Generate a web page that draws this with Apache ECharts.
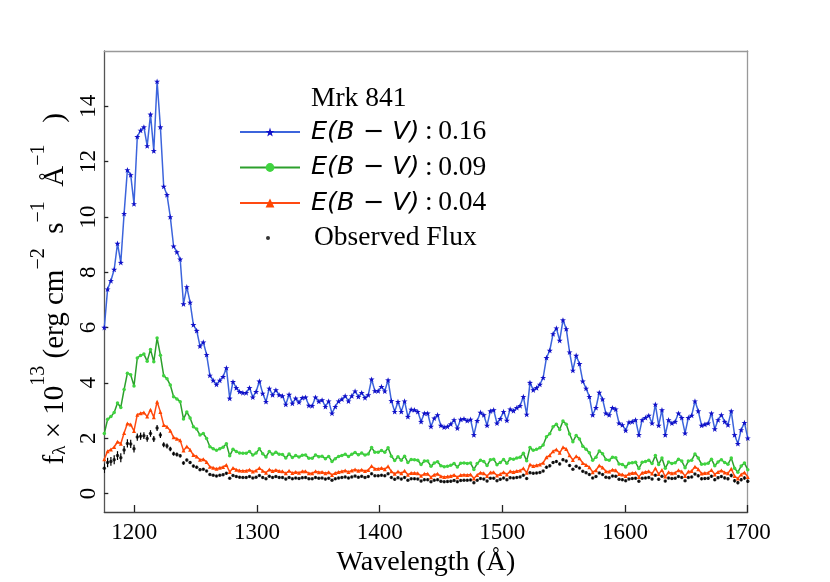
<!DOCTYPE html>
<html>
<head>
<meta charset="utf-8">
<script src="https://cdn.jsdelivr.net/npm/echarts@6/dist/echarts.min.js"></script>
<style>
  html, body { margin: 0; padding: 0; background: #fff; }
  #chart { width: 830px; height: 582px; }
</style>
</head>
<body>
<div id="chart"></div>
<script>
// spectrum of Mrk 841, uniform bins of ~2.69 A starting at the left edge
var waveStart = 1175.5
var waveStep = 2.69

var xTicks = [1200, 1300, 1400, 1500, 1600, 1700]
var yTicks = [0, 2, 4, 6, 8, 10, 12, 14]

// E(B-V) = 0.16
var flux16 = [
  6.00, 7.39, 7.69, 8.10, 9.04, 8.35, 10.12, 11.70, 11.52, 10.47,
  12.90, 13.13, 13.25, 12.57, 13.71, 12.39, 14.90, 13.25, 11.10, 10.80,
  10.00, 8.94, 8.73, 8.47, 6.85, 7.47, 6.91, 6.10, 5.89, 5.33,
  5.47, 5.02, 4.27, 4.09, 3.94, 4.09, 4.22, 4.54, 3.44, 4.04,
  3.82, 3.68, 3.64, 3.64, 3.82, 3.48, 3.68, 4.06, 3.62, 3.32,
  3.80, 3.56, 3.74, 3.56, 3.53, 3.22, 3.58, 3.26, 3.44, 3.30,
  3.46, 3.48, 3.18, 3.17, 3.48, 3.33, 3.38, 3.14, 3.34, 2.90,
  3.14, 3.34, 3.41, 3.53, 3.34, 3.53, 3.70, 3.50, 3.64, 3.46,
  3.56, 4.13, 3.71, 3.71, 3.86, 3.70, 4.10, 3.35, 2.96, 3.32,
  2.96, 3.34, 2.78, 3.04, 3.02, 2.96, 2.60, 2.90, 2.90, 2.42,
  2.72, 2.84, 2.46, 2.40, 2.42, 2.51, 2.66, 2.36, 2.68, 2.70,
  2.63, 2.68, 2.12, 2.63, 2.93, 2.84, 2.46, 2.98, 3.02, 2.54,
  2.70, 2.96, 2.64, 3.05, 2.99, 3.10, 3.17, 3.50, 2.86, 4.01,
  3.74, 3.82, 3.94, 4.19, 4.91, 5.17, 5.77, 5.98, 5.53, 6.27,
  5.95, 5.11, 4.45, 4.99, 4.69, 4.06, 3.80, 3.50, 2.84, 3.10,
  3.65, 3.41, 2.90, 2.84, 3.10, 3.05, 2.54, 2.48, 2.28, 2.58,
  2.60, 2.66, 2.12, 2.66, 2.74, 2.82, 2.54, 3.22, 2.46, 3.02,
  2.12, 2.66, 2.54, 2.60, 2.90, 2.74, 2.18, 2.74, 2.82, 3.34,
  2.98, 2.46, 2.50, 2.54, 2.90, 2.33, 2.66, 2.84, 2.60, 2.48,
  2.98, 2.12, 1.80, 2.30, 2.56, 2.00
]

// E(B-V) = 0.09
var flux09 = [
  2.17, 2.68, 2.78, 2.93, 3.27, 3.11, 3.76, 4.35, 4.29, 3.89,
  4.90, 4.99, 5.04, 4.78, 5.21, 4.76, 5.62, 5.00, 4.26, 4.15,
  3.92, 3.50, 3.42, 3.32, 2.69, 2.95, 2.73, 2.41, 2.33, 2.11,
  2.17, 1.99, 1.69, 1.62, 1.56, 1.62, 1.67, 1.80, 1.36, 1.60,
  1.52, 1.46, 1.45, 1.45, 1.52, 1.39, 1.46, 1.62, 1.44, 1.32,
  1.52, 1.42, 1.49, 1.42, 1.41, 1.28, 1.43, 1.30, 1.37, 1.32,
  1.38, 1.39, 1.27, 1.27, 1.39, 1.33, 1.35, 1.26, 1.34, 1.16,
  1.26, 1.34, 1.37, 1.42, 1.34, 1.42, 1.48, 1.40, 1.46, 1.39,
  1.43, 1.66, 1.49, 1.49, 1.55, 1.49, 1.65, 1.35, 1.19, 1.33,
  1.20, 1.35, 1.12, 1.23, 1.22, 1.20, 1.05, 1.17, 1.17, 0.98,
  1.10, 1.15, 1.00, 0.97, 0.98, 1.02, 1.08, 0.96, 1.09, 1.10,
  1.08, 1.10, 0.87, 1.08, 1.20, 1.16, 1.01, 1.22, 1.24, 1.04,
  1.12, 1.23, 1.09, 1.26, 1.24, 1.28, 1.31, 1.45, 1.18, 1.66,
  1.56, 1.60, 1.65, 1.75, 2.05, 2.16, 2.41, 2.50, 2.31, 2.62,
  2.50, 2.15, 1.87, 2.10, 1.97, 1.71, 1.60, 1.47, 1.20, 1.31,
  1.54, 1.44, 1.23, 1.20, 1.31, 1.29, 1.07, 1.05, 0.96, 1.09,
  1.11, 1.13, 0.90, 1.13, 1.16, 1.20, 1.08, 1.37, 1.05, 1.28,
  0.91, 1.14, 1.08, 1.11, 1.24, 1.17, 0.93, 1.17, 1.20, 1.43,
  1.28, 1.06, 1.07, 1.09, 1.24, 1.00, 1.14, 1.22, 1.12, 1.06,
  1.28, 0.91, 0.77, 0.99, 1.10, 0.86
]

// E(B-V) = 0.04
var flux04 = [
  1.24, 1.53, 1.59, 1.68, 1.87, 1.80, 2.19, 2.53, 2.49, 2.26,
  2.85, 2.90, 2.93, 2.78, 3.03, 2.76, 3.32, 2.95, 2.48, 2.41,
  2.27, 2.03, 1.98, 1.92, 1.55, 1.70, 1.58, 1.39, 1.34, 1.22,
  1.24, 1.14, 0.97, 0.93, 0.89, 0.93, 0.96, 1.03, 0.78, 0.92,
  0.86, 0.83, 0.82, 0.82, 0.86, 0.79, 0.83, 0.92, 0.82, 0.75,
  0.87, 0.81, 0.85, 0.81, 0.80, 0.73, 0.82, 0.74, 0.78, 0.75,
  0.80, 0.80, 0.73, 0.73, 0.80, 0.77, 0.78, 0.73, 0.77, 0.67,
  0.74, 0.78, 0.80, 0.83, 0.78, 0.83, 0.87, 0.82, 0.86, 0.81,
  0.85, 0.99, 0.89, 0.89, 0.92, 0.88, 0.98, 0.80, 0.71, 0.79,
  0.73, 0.82, 0.68, 0.74, 0.74, 0.73, 0.64, 0.71, 0.71, 0.59,
  0.68, 0.71, 0.62, 0.60, 0.61, 0.63, 0.67, 0.59, 0.67, 0.68,
  0.67, 0.69, 0.54, 0.67, 0.75, 0.73, 0.63, 0.76, 0.77, 0.65,
  0.70, 0.77, 0.69, 0.80, 0.78, 0.81, 0.83, 0.91, 0.75, 1.05,
  0.99, 1.02, 1.05, 1.11, 1.31, 1.38, 1.53, 1.59, 1.47, 1.67,
  1.61, 1.38, 1.21, 1.35, 1.27, 1.10, 1.03, 0.95, 0.77, 0.84,
  1.01, 0.94, 0.80, 0.79, 0.86, 0.84, 0.70, 0.69, 0.63, 0.71,
  0.74, 0.75, 0.60, 0.75, 0.78, 0.80, 0.72, 0.91, 0.70, 0.85,
  0.61, 0.77, 0.73, 0.75, 0.84, 0.79, 0.63, 0.79, 0.81, 0.97,
  0.88, 0.72, 0.74, 0.75, 0.85, 0.69, 0.78, 0.83, 0.76, 0.73,
  0.89, 0.63, 0.54, 0.69, 0.76, 0.60
]

// observed flux and its error
var fluxObs = [
  0.91, 1.12, 1.16, 1.22, 1.37, 1.29, 1.57, 1.81, 1.79, 1.62,
  2.04, 2.07, 2.09, 1.99, 2.17, 1.97, 2.37, 2.11, 1.76, 1.72,
  1.61, 1.44, 1.41, 1.36, 1.10, 1.21, 1.12, 0.99, 0.95, 0.86,
  0.88, 0.81, 0.69, 0.66, 0.63, 0.66, 0.68, 0.73, 0.55, 0.65,
  0.61, 0.59, 0.58, 0.58, 0.61, 0.56, 0.59, 0.65, 0.58, 0.53,
  0.62, 0.58, 0.61, 0.58, 0.58, 0.52, 0.58, 0.53, 0.56, 0.54,
  0.57, 0.58, 0.53, 0.53, 0.58, 0.55, 0.56, 0.52, 0.55, 0.48,
  0.53, 0.56, 0.58, 0.60, 0.56, 0.60, 0.63, 0.59, 0.62, 0.58,
  0.61, 0.71, 0.64, 0.64, 0.66, 0.64, 0.71, 0.58, 0.51, 0.57,
  0.52, 0.58, 0.48, 0.53, 0.53, 0.52, 0.45, 0.50, 0.50, 0.42,
  0.48, 0.50, 0.44, 0.42, 0.43, 0.44, 0.47, 0.42, 0.47, 0.48,
  0.48, 0.49, 0.39, 0.48, 0.54, 0.52, 0.45, 0.55, 0.55, 0.46,
  0.51, 0.56, 0.50, 0.57, 0.56, 0.58, 0.60, 0.66, 0.54, 0.75,
  0.73, 0.74, 0.76, 0.81, 0.95, 1.00, 1.12, 1.16, 1.07, 1.22,
  1.17, 1.01, 0.88, 0.98, 0.92, 0.80, 0.75, 0.69, 0.56, 0.61,
  0.74, 0.69, 0.59, 0.57, 0.63, 0.62, 0.51, 0.50, 0.46, 0.52,
  0.54, 0.55, 0.44, 0.55, 0.56, 0.58, 0.52, 0.66, 0.51, 0.62,
  0.45, 0.56, 0.54, 0.55, 0.61, 0.58, 0.46, 0.58, 0.60, 0.70,
  0.64, 0.53, 0.54, 0.55, 0.62, 0.50, 0.57, 0.61, 0.56, 0.53,
  0.65, 0.46, 0.39, 0.50, 0.56, 0.44
]
var fluxErr = [
  0.17, 0.17, 0.16, 0.16, 0.16, 0.16, 0.15, 0.15, 0.15, 0.14,
  0.13, 0.13, 0.12, 0.12, 0.12, 0.11, 0.11, 0.10, 0.09, 0.09,
  0.08, 0.07, 0.07, 0.06, 0.06, 0.05, 0.05, 0.05, 0.05, 0.05,
  0.04, 0.04, 0.04, 0.04, 0.04, 0.04, 0.04, 0.04, 0.04, 0.04,
  0.04, 0.04, 0.04, 0.04, 0.04, 0.04, 0.04, 0.04, 0.04, 0.04,
  0.04, 0.04, 0.04, 0.04, 0.04, 0.04, 0.04, 0.04, 0.04, 0.04,
  0.04, 0.04, 0.04, 0.04, 0.04, 0.04, 0.04, 0.04, 0.04, 0.04,
  0.04, 0.04, 0.04, 0.04, 0.04, 0.04, 0.04, 0.04, 0.04, 0.04,
  0.04, 0.04, 0.04, 0.04, 0.04, 0.04, 0.04, 0.04, 0.04, 0.04,
  0.04, 0.04, 0.04, 0.04, 0.04, 0.04, 0.04, 0.04, 0.04, 0.04,
  0.04, 0.04, 0.04, 0.04, 0.04, 0.04, 0.04, 0.04, 0.04, 0.04,
  0.04, 0.04, 0.04, 0.04, 0.04, 0.04, 0.04, 0.04, 0.04, 0.04,
  0.04, 0.04, 0.04, 0.04, 0.04, 0.04, 0.04, 0.04, 0.04, 0.04,
  0.04, 0.04, 0.04, 0.04, 0.05, 0.05, 0.05, 0.05, 0.05, 0.05,
  0.05, 0.05, 0.04, 0.04, 0.04, 0.04, 0.04, 0.04, 0.04, 0.04,
  0.04, 0.04, 0.04, 0.04, 0.04, 0.04, 0.04, 0.04, 0.04, 0.04,
  0.04, 0.04, 0.04, 0.04, 0.04, 0.04, 0.04, 0.04, 0.04, 0.04,
  0.04, 0.04, 0.04, 0.04, 0.04, 0.04, 0.04, 0.04, 0.04, 0.04,
  0.05, 0.05, 0.05, 0.05, 0.05, 0.05, 0.05, 0.05, 0.05, 0.05,
  0.06, 0.06, 0.06, 0.06, 0.06, 0.06
]

var seriesNames = ['E(B − V): 0.16', 'E(B − V): 0.09', 'E(B − V): 0.04', 'Observed Flux']

var wavelength = []
for (var i = 0; i < flux16.length; i++) {
  wavelength.push(waveStart + waveStep * i)
}
function pairs (values) {
  return values.map(function (v, i) { return [wavelength[i], v] })
}

var serif = 'Liberation Serif'
var starPath = 'path://M0,-10L2.35,-3.24L9.51,-3.09L3.8,1.24L5.88,8.09L0,4L-5.88,8.09L-3.8,1.24L-9.51,-3.09L-2.35,-3.24Z'
var plain = function (v) { return String(v) }

var chart = echarts.init(document.getElementById('chart'))
var option = {
  animation: false,
  backgroundColor: '#fff',
  title: {
    text: 'Mrk 841',
    left: 311,
    top: 85,
    padding: 0,
    textStyle: { fontFamily: serif, fontSize: 27.5, fontWeight: 'normal', color: '#000' }
  },
  legend: [
    {
      data: seriesNames.slice(0, 3),
      orient: 'vertical',
      left: 234,
      top: 113,
      itemWidth: 60,
      itemHeight: 11,
      itemGap: 7.5,
      selectedMode: false,
      formatter: function (name) {
        var p = name.split(':')
        return '{e|' + p[0] + '}{n|\u2009:\u2009' + p[1].trim() + '}'
      },
      textStyle: {
        color: '#000',
        rich: {
          e: { fontFamily: 'DejaVu Sans', fontStyle: 'italic', fontSize: 25.5, lineHeight: 30, padding: [0, 0, 0, 6] },
          n: { fontFamily: serif, fontSize: 27.5, lineHeight: 30 }
        }
      }
    },
    {
      data: [seriesNames[3]],
      orient: 'vertical',
      left: 261,
      top: 219,
      itemWidth: 4,
      itemHeight: 4,
      selectedMode: false,
      formatter: '{o|{name}}',
      textStyle: {
        color: '#000',
        rich: {
          o: { fontFamily: serif, fontSize: 27.5, lineHeight: 30, padding: [0, 0, 0, 39] }
        }
      }
    }
  ],
  grid: { left: 104.3, right: 82.3, top: 51, bottom: 67.7 },
  xAxis: [
    {
      type: 'value',
      min: 1175.5,
      max: 1700,
      name: 'Wavelength (Å)',
      nameLocation: 'middle',
      nameGap: 37,
      nameTextStyle: { fontFamily: serif, fontSize: 28, color: '#000' },
      axisLine: { show: true, onZero: false, lineStyle: { color: '#444', width: 1.3 } },
      axisTick: { show: true, inside: true, length: 7, customValues: xTicks, lineStyle: { color: '#222', width: 1.3 } },
      axisLabel: { customValues: xTicks, formatter: plain, fontFamily: serif, fontSize: 23, color: '#000', margin: 9, showMinLabel: true, showMaxLabel: true },
      splitLine: { show: false }
    },
    {
      type: 'value',
      position: 'top',
      min: 1175.5,
      max: 1700,
      axisLine: { show: true, onZero: false, lineStyle: { color: '#999', width: 1.3 } },
      axisTick: { show: false },
      axisLabel: { show: false },
      splitLine: { show: false }
    }
  ],
  yAxis: [
    {
      type: 'value',
      min: -0.67,
      max: 16,
      name: '{t|f}{sub|λ}{t| × 10}{sup|13}{t| (erg cm}{sup|−2}{t|  s}{sup|−1}{t|  Å}{sup|−1}{t|   )  }',
      nameLocation: 'middle',
      nameRotate: 90,
      nameGap: 28,
      nameTextStyle: {
        color: '#000',
        rich: {
          t: { fontFamily: serif, fontSize: 29, lineHeight: 41, verticalAlign: 'bottom' },
          sub: { fontFamily: serif, fontSize: 19, verticalAlign: 'bottom' },
          sup: { fontFamily: serif, fontSize: 20, verticalAlign: 'top' }
        }
      },
      axisLine: { show: true, onZero: false, lineStyle: { color: '#555', width: 1.3 } },
      axisTick: { show: true, inside: true, length: 4, customValues: yTicks, lineStyle: { color: '#222', width: 1.3 } },
      axisLabel: { customValues: yTicks, formatter: plain, rotate: 90, fontFamily: serif, fontSize: 23, color: '#000', margin: 4 },
      splitLine: { show: false }
    },
    {
      type: 'value',
      position: 'right',
      min: -0.67,
      max: 16,
      axisLine: { show: true, onZero: false, lineStyle: { color: '#999', width: 1.3 } },
      axisTick: { show: false },
      axisLabel: { show: false },
      splitLine: { show: false }
    }
  ],
  series: [
    {
      name: seriesNames[3],
      type: 'scatter',
      data: pairs(fluxObs),
      symbol: 'circle',
      symbolSize: 3.5,
      itemStyle: { color: '#000' },
      z: 2
    },
    {
      name: 'obs-err',
      type: 'custom',
      data: fluxObs.map(function (v, i) { return [wavelength[i], v, fluxErr[i]] }),
      renderItem: function (params, api) {
        var x = api.value(0)
        var y = api.value(1)
        var e = api.value(2)
        var p1 = api.coord([x, y - e])
        var p2 = api.coord([x, y + e])
        return {
          type: 'line',
          shape: { x1: p1[0], y1: p1[1], x2: p2[0], y2: p2[1] },
          style: { stroke: '#000', lineWidth: 1.2 }
        }
      },
      clip: true,
      z: 2
    },
    {
      name: seriesNames[2],
      type: 'line',
      data: pairs(flux04),
      symbol: 'triangle',
      symbolSize: 4,
      lineStyle: { color: '#ff4a12', width: 1.5 },
      itemStyle: { color: '#ff4500' },
      z: 3
    },
    {
      name: seriesNames[1],
      type: 'line',
      data: pairs(flux09),
      symbol: 'circle',
      symbolSize: 3.5,
      lineStyle: { color: '#2ca02c', width: 1.5 },
      itemStyle: { color: '#3fd43f' },
      z: 4
    },
    {
      name: seriesNames[0],
      type: 'line',
      data: pairs(flux16),
      symbol: starPath,
      symbolKeepAspect: true,
      symbolSize: 6,
      lineStyle: { color: '#3c64dc', width: 1.5 },
      itemStyle: { color: '#1010c8' },
      z: 5
    }
  ]
}
chart.setOption(option)
</script>
</body>
</html>
